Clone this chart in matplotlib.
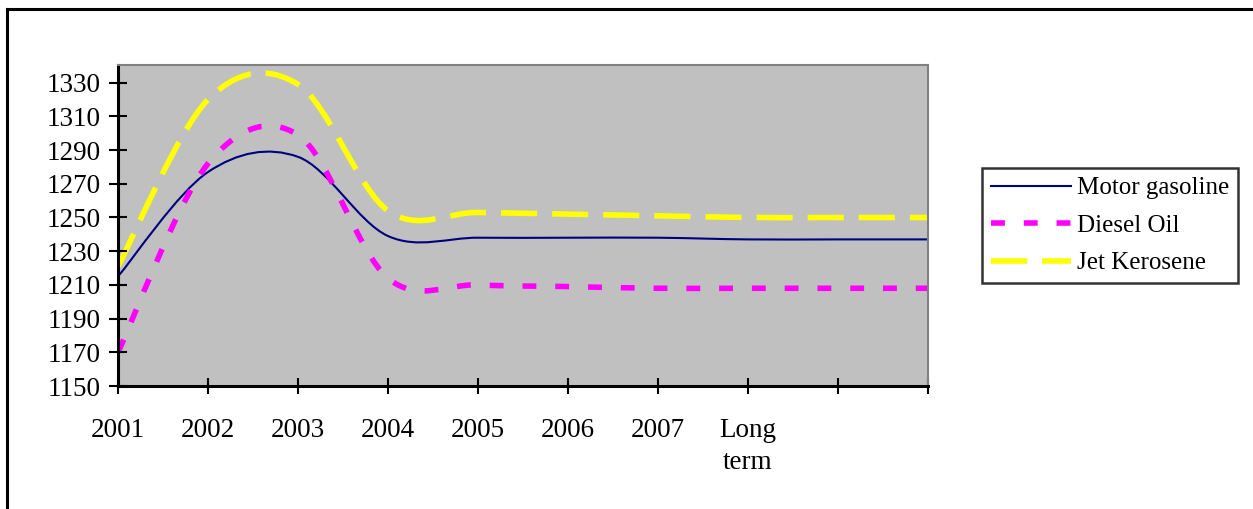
import matplotlib.pyplot as plt
from matplotlib.path import Path
from matplotlib.patches import PathPatch
from matplotlib.lines import Line2D

plt.rcParams['font.family'] = ['Liberation Serif', 'DejaVu Serif']

# categories (last two have no label)
labels = ['2001', '2002', '2003', '2004', '2005', '2006', '2007', 'Long\nterm', '', '']
gasoline = [1215, 1277, 1286, 1239, 1238, 1238, 1238, 1237, 1237, 1237]
diesel = [1170, 1282, 1299, 1214, 1210, 1209, 1208, 1208, 1208, 1208]
jet = [1221, 1320, 1329, 1254, 1253, 1252, 1251, 1250, 1250, 1250]


def smooth_path(xs, ys):
    # excel-like smoothed line: cubic bezier through the points
    n = len(xs)
    verts = [(xs[0], ys[0])]
    codes = [Path.MOVETO]
    for i in range(n - 1):
        x0, y0 = xs[max(i - 1, 0)], ys[max(i - 1, 0)]
        x3, y3 = xs[min(i + 2, n - 1)], ys[min(i + 2, n - 1)]
        c1 = (xs[i] + (xs[i + 1] - x0) / 6, ys[i] + (ys[i + 1] - y0) / 6)
        c2 = (xs[i + 1] - (x3 - xs[i]) / 6, ys[i + 1] - (y3 - ys[i]) / 6)
        verts += [c1, c2, (xs[i + 1], ys[i + 1])]
        codes += [Path.CURVE4] * 3
    return Path(verts, codes)


fig = plt.figure(figsize=(12.53, 5.09), dpi=100)
ax = fig.add_axes([118 / 1253, 1 - 386 / 509, 810 / 1253, 321 / 509])
ax.set_facecolor('#C0C0C0')

x = list(range(len(labels)))
styles = [
    (gasoline, 'Motor gasoline', '#000080', 1.5, '-'),
    (diesel, 'Diesel Oil', '#FF00FF', 4.0, (0, (2.5, 3.4))),
    (jet, 'Jet Kerosene', '#FFFF00', 4.0, (0, (6.5, 2.7))),
]
handles = []
for ys, name, col, lw, ls in styles:
    p = PathPatch(smooth_path(x, ys), facecolor='none', edgecolor=col,
                  lw=lw, linestyle=ls, capstyle='butt', joinstyle='round')
    ax.add_patch(p)
    handles.append(Line2D([], [], color=col, lw=lw, linestyle=ls,
                          dash_capstyle='butt'))

ax.set_xlim(0, 9)
ax.set_ylim(1150, 1340.5)
ax.set_xticks(x)
ax.set_xticklabels(labels, fontsize=19.5, linespacing=1.4)
ax.set_yticks(range(1150, 1331, 20))
ax.tick_params(axis='y', direction='inout', length=13.5, width=1.5, pad=6, labelsize=19.5)
ax.tick_params(axis='x', direction='inout', length=11.5, width=1.5, pad=17, labelsize=19.5)

for s in ['top', 'right']:
    ax.spines[s].set_color('#808080')
    ax.spines[s].set_linewidth(1.5)
for s in ['left', 'bottom']:
    ax.spines[s].set_linewidth(2.2)

leg = fig.legend(handles, [s[1] for s in styles], loc='upper left',
                 bbox_to_anchor=(982 / 1253, 1 - 168 / 509), fontsize=18,
                 frameon=True, fancybox=False, edgecolor='black',
                 handlelength=3.2, handletextpad=0.25, labelspacing=0.6,
                 borderpad=0.35, borderaxespad=0)
leg.get_frame().set_linewidth(1.8)

# outer chart frame
fig.add_artist(Line2D([7 / 1253, 1.0], [1 - 9 / 509, 1 - 9 / 509], color='black', lw=2.2))
fig.add_artist(Line2D([7 / 1253, 7 / 1253], [0, 1 - 9 / 509], color='black', lw=2.2))

fig.savefig('out.png', dpi=100)
